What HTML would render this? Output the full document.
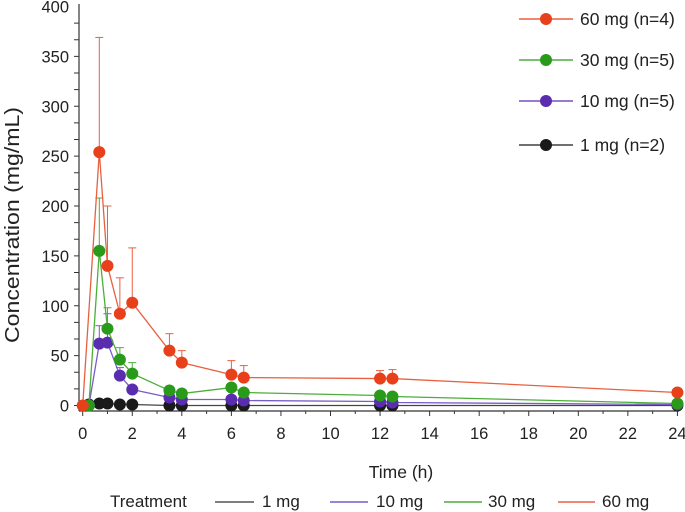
<!DOCTYPE html>
<html><head><meta charset="utf-8"><style>
body{margin:0;background:#fff;}
svg{display:block;font-family:"Liberation Sans",Arial,sans-serif;}
</style></head><body>
<svg id="chart" width="685" height="512"></svg>
<script>
const times=[0,0.25,0.67,1,1.5,2,3.5,4,6,6.5,12,12.5,24];
const mg60=[0,null,254,140,92,103,55,43,31,28,27,27,13];
const mg60Err=[0,null,369,200,128,158,72,55,45,40,35,36,0];
const mg30=[null,0,155,77,46,32,15,12,18,13,10,9,2];
const mg30Err=[null,0,208,98,58,43,0,0,0,0,0,0,0];
const mg10=[null,0,62,63,30,16,8,6,6,5,4,3,1];
const mg10Err=[null,0,80,92,38,0,0,0,0,0,0,0,0];
const mg1=[null,1,2,2,1,1,0,0,0,0,0,0,0];
const xTicks=[0,2,4,6,8,10,12,14,16,18,20,22,24];
const yTicks=[0,50,100,150,200,250,300,350,400];
const seriesNames=["60 mg (n=4)","30 mg (n=5)","10 mg (n=5)","1 mg (n=2)"];

const NS="http://www.w3.org/2000/svg";
const svg=document.getElementById('chart');
const X=v=>82.7+v*24.78;
const Y=v=>405.5-v*0.9975;
function mk(t,a,p){const e=document.createElementNS(NS,t);for(const k in a)e.setAttribute(k,a[k]);(p||svg).appendChild(e);return e;}

let ax=mk('line',{x1:79,y1:4,x2:79,y2:411,stroke:'#333','stroke-width':1.2});


let bx=mk('line',{x1:79,y1:411,x2:679,y2:411,stroke:'#333','stroke-width':1.2});


for(let v=0;v<=400;v+=50/3){const y=Y(v);mk('line',{x1:74,y1:y,x2:79,y2:y,stroke:'#333'});}
yTicks.forEach(v=>{const t=mk('text',{x:69,y:Y(v)+6,'text-anchor':'end','font-size':16.5,fill:'#222'});t.textContent=v;

});
for(let v=0;v<=24;v+=1){mk('line',{x1:X(v),y1:411,x2:X(v),y2:v%2?414:416,stroke:'#333'});}
xTicks.forEach(v=>{const t=mk('text',{x:X(v),y:439,'text-anchor':'middle','font-size':16.5,fill:'#222'});t.textContent=v;

});
let xt=mk('text',{x:401,y:478,'text-anchor':'middle','font-size':17.5,fill:'#222'});xt.textContent='Time (h)';


let yt=mk('text',{x:0,y:0,'text-anchor':'middle','font-size':20,fill:'#222',textLength:236,lengthAdjust:'spacingAndGlyphs',transform:'translate(19,225) rotate(-90)'});yt.textContent='Concentration (mg/mL)';



const series=[[mg1,null,'#1a1a1a','#444'],[mg10,mg10Err,'#5a2db0','#7a5cc8'],[mg30,mg30Err,'#2a9a1a','#4cae3a'],[mg60,mg60Err,'#e8401a','#e86040']];
series.forEach(([vals,errs,c,lc],si)=>{
  const g=mk('g',{});
  
  
  let d='';times.forEach((t,i)=>{if(vals[i]==null)return;d+=(d?'L':'M')+X(t)+','+Y(vals[i]);});
  mk('path',{d:d,fill:'none',stroke:lc,'stroke-width':1.3},g);
  if(errs)times.forEach((t,i)=>{if(errs[i]==null||errs[i]<=vals[i])return;const x=X(t);
    mk('line',{x1:x,y1:Y(vals[i]),x2:x,y2:Y(errs[i]),stroke:lc,'stroke-width':1},g);
    mk('line',{x1:x-4,y1:Y(errs[i]),x2:x+4,y2:Y(errs[i]),stroke:lc,'stroke-width':1},g);});
  times.forEach((t,i)=>{if(vals[i]==null)return;const p=mk('circle',{cx:X(t),cy:Y(vals[i]),r:6,fill:c},g);
    
    });
});

const legCols=['#e8401a','#2a9a1a','#5a2db0','#1a1a1a'];
const legY=[19,60,101,145];
seriesNames.forEach((n,i)=>{const g=mk('g',{});
  
  
  mk('line',{x1:519,y1:legY[i],x2:573,y2:legY[i],stroke:legCols[i],'stroke-width':1.3},g);
  mk('circle',{cx:546,cy:legY[i],r:6,fill:legCols[i]},g);
  const t=mk('text',{x:580,y:legY[i]+6,'font-size':17.5,fill:'#222'},g);t.textContent=n;});

let tr=mk('text',{x:110,y:507,'font-size':17,fill:'#222'});tr.textContent='Treatment';


const bl=[['1 mg','#555',215,254,262],['10 mg','#7a5cc8',330,368,376],['30 mg','#4cae3a',444,482,488],['60 mg','#e86040',558,595,602]];
bl.forEach(([n,c,a,b,tx])=>{const g=mk('g',{});
  
  
  mk('line',{x1:a,y1:502,x2:b,y2:502,stroke:c,'stroke-width':1.5},g);
  const t=mk('text',{x:tx,y:507,'font-size':17,fill:'#222'},g);t.textContent=n;});
</script>
</body></html>
